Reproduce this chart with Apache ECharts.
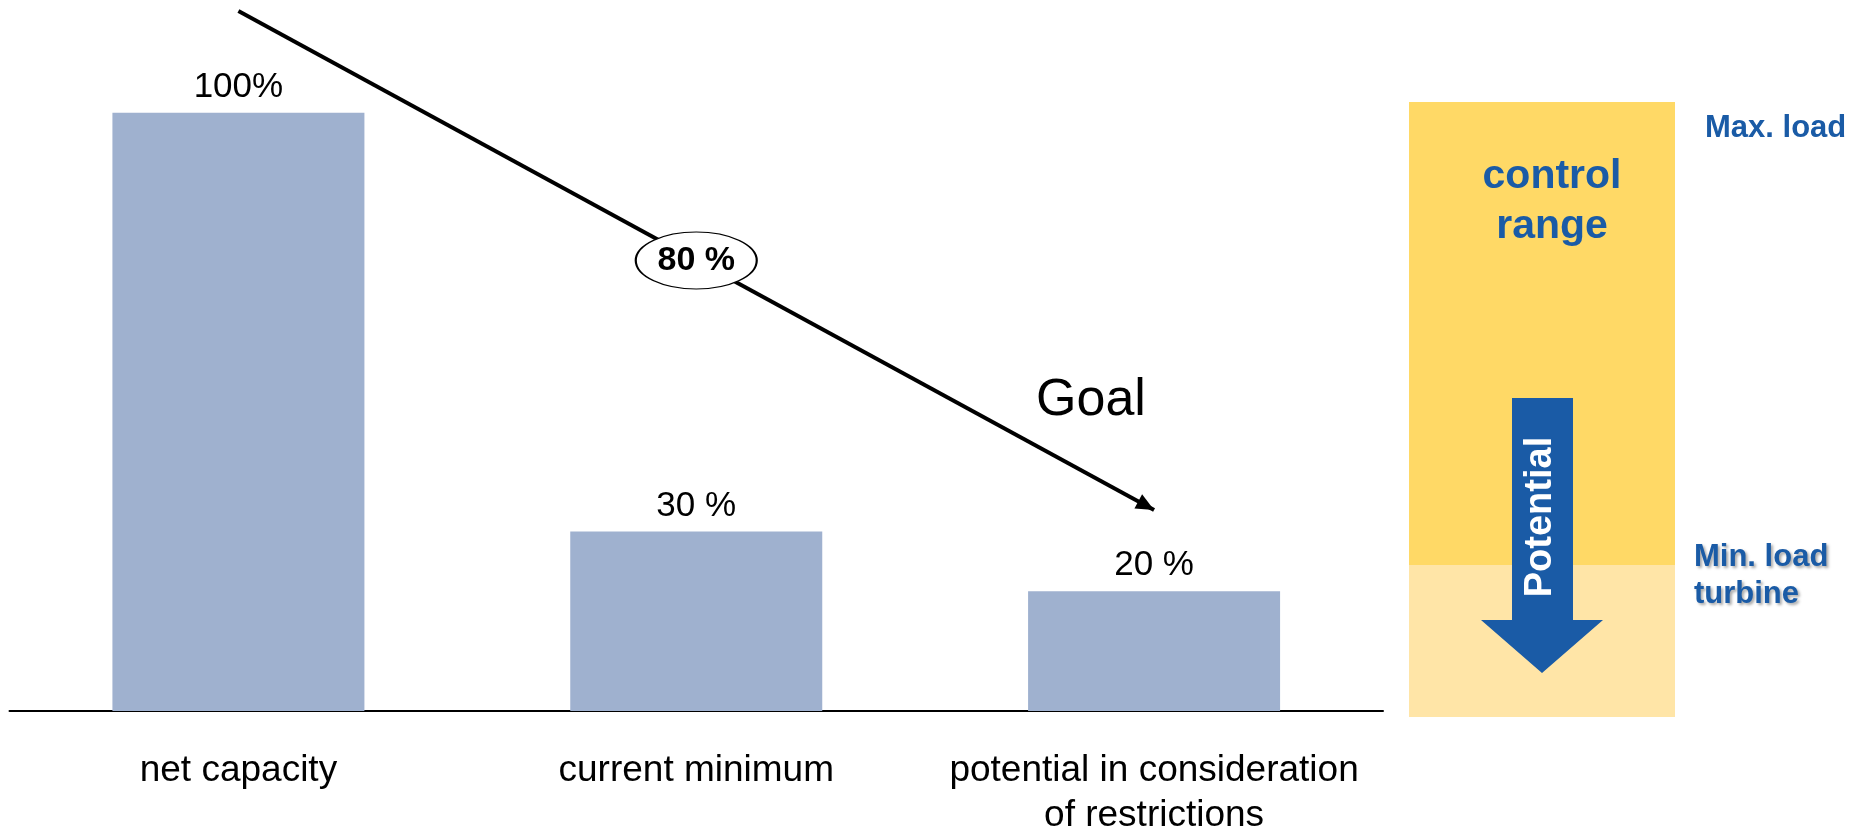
<!DOCTYPE html>
<html>
<head>
<meta charset="utf-8">
<title>Load flexibility</title>
<script src="https://cdn.jsdelivr.net/npm/echarts@6/dist/echarts.min.js"></script>
<style>
  html, body { margin: 0; padding: 0; background: #ffffff; }
  #chart { width: 1858px; height: 829px; }
</style>
</head>
<body>
<div id="chart"></div>
<script>
// Bar data
const categories = ['net capacity', 'current minimum', 'potential in consideration\nof restrictions'];
const barValues = [100, 30, 20];
const valueLabels = ['100%', '30 %', '20 %'];

// "Goal" arrow: [category index, value] at start and end
const goalArrow = [[0, 117], [2, 33.6]];

const FONT = "'Liberation Sans', Arial, Helvetica, sans-serif";
const BLUE = '#1A5BA6';

// reduction shown in the ellipse on the goal arrow
const reductionText = (barValues[0] - barValues[2]) + ' %';
const goalMid = [1, (goalArrow[0][1] + goalArrow[1][1]) / 2];

// arrow head whose tip sits at the centre of the symbol box
const ARROW_HEAD = 'path://M0,0 L8,18 L-8,18 Z M0,-18';

const chart = echarts.init(document.getElementById('chart'), null, { renderer: 'canvas' });

chart.setOption({
  backgroundColor: '#ffffff',
  animation: false,
  grid: { left: 9.5, right: 475, top: 5, bottom: 118, containLabel: false, outerBoundsMode: 'none' },
  xAxis: {
    type: 'category',
    data: categories,
    axisLine: { show: true, lineStyle: { color: '#000000', width: 2 } },
    axisTick: { show: false },
    axisLabel: {
      interval: 0,
      margin: 37,
      color: '#000000',
      fontFamily: FONT,
      fontSize: 37,
      lineHeight: 45
    },
    splitLine: { show: false }
  },
  yAxis: {
    type: 'value',
    min: 0,
    max: 118,
    show: false,
    splitLine: { show: false }
  },
  series: [
    {
      type: 'bar',
      data: barValues,
      barWidth: 252,
      itemStyle: { color: '#9FB1CF' },
      label: {
        show: true,
        position: 'top',
        distance: 8,
        color: '#000000',
        fontFamily: FONT,
        fontSize: 35,
        formatter: p => valueLabels[p.dataIndex]
      },
      markLine: {
        silent: true,
        symbol: ['none', ARROW_HEAD],
        symbolSize: [16, 36],
        label: { show: false },
        lineStyle: { color: '#000000', width: 4, type: 'solid', cap: 'butt' },
        data: [[{ coord: goalArrow[0] }, { coord: goalArrow[1] }]]
      }
    },
    {
      type: 'scatter',
      z: 5,
      data: [goalMid],
      symbol: 'circle',
      symbolSize: [121, 57],
      itemStyle: { color: '#ffffff', borderColor: '#000000', borderWidth: 1.5, opacity: 1 },
      label: {
        show: true,
        position: 'inside',
        formatter: reductionText,
        color: '#000000',
        fontFamily: FONT,
        fontWeight: 'bold',
        fontSize: 34
      }
    }
  ],
  graphic: [
    {
      type: 'text',
      x: 1091, y: 401,
      style: { text: 'Goal', fill: '#000000', font: '52px ' + FONT, align: 'center', verticalAlign: 'middle' }
    },
    // load range panel
    { type: 'rect', shape: { x: 1409, y: 102, width: 266, height: 463 }, style: { fill: '#FFD966' } },
    { type: 'rect', shape: { x: 1409, y: 565, width: 266, height: 152 }, style: { fill: '#FFE5A7' } },
    {
      type: 'polygon',
      shape: { points: [[1512, 398], [1573, 398], [1573, 620], [1603, 620], [1542, 673], [1481, 620], [1512, 620]] },
      style: { fill: BLUE }
    },
    {
      type: 'text',
      x: 1541, y: 517,
      rotation: Math.PI / 2,
      style: { text: 'Potential', fill: '#ffffff', font: 'bold 38px ' + FONT, align: 'center', verticalAlign: 'middle' }
    },
    {
      type: 'text',
      x: 1552, y: 202,
      style: { text: 'control\nrange', fill: BLUE, font: 'bold 41px ' + FONT, lineHeight: 50, align: 'center', verticalAlign: 'middle' }
    },
    {
      type: 'text',
      x: 1705, y: 128,
      style: { text: 'Max. load', fill: BLUE, font: 'bold 31px ' + FONT, align: 'left', verticalAlign: 'middle' }
    },
    {
      type: 'text',
      x: 1694, y: 576,
      style: {
        text: 'Min. load\nturbine', fill: BLUE, font: 'bold 31px ' + FONT, lineHeight: 37,
        align: 'left', verticalAlign: 'middle',
        textShadowColor: 'rgba(0,0,0,0.35)', textShadowBlur: 3, textShadowOffsetX: 2, textShadowOffsetY: 2
      }
    }
  ]
});
</script>
</body>
</html>
